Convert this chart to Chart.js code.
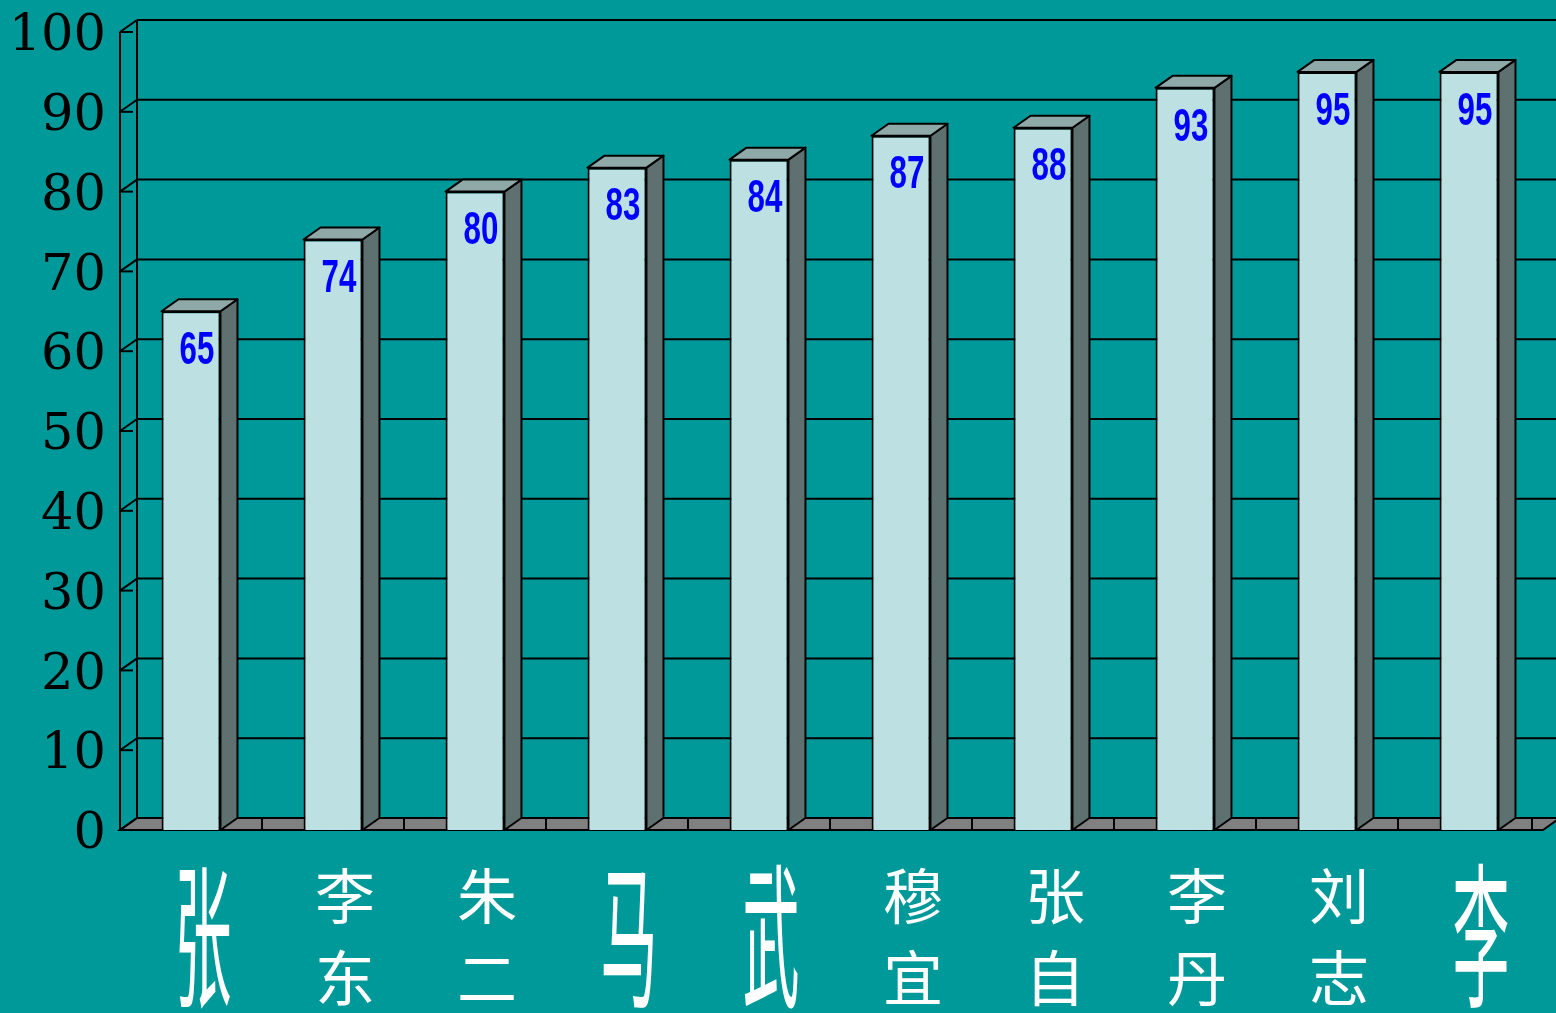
<!DOCTYPE html>
<html>
<head>
<meta charset="utf-8">
<script src="https://cdn.jsdelivr.net/npm/chart.js@4.4.1/dist/chart.umd.min.js"></script>
<style>
  html, body { margin: 0; padding: 0; background: #009999; }
  #myChart { display: block; }
</style>
</head>
<body>
<canvas id="myChart" width="1556" height="1013"></canvas>
<script>
// data
const names = ['张', '李东', '朱二', '马', '武', '穆宜', '张自', '李丹', '刘志', '李'];
const scores = [65, 74, 80, 83, 84, 87, 88, 93, 95, 95];
const yTicks = [0, 10, 20, 30, 40, 50, 60, 70, 80, 90, 100];

const DX = 17, DY = 12; // depth of the fake 3d

function line(ctx, x1, y1, x2, y2) {
    ctx.beginPath();
    ctx.moveTo(x1, y1);
    ctx.lineTo(x2, y2);
    ctx.stroke();
}

// walls, floor and grid behind the bars
const backWall = {
    id: 'backWall',
    beforeDatasetsDraw(chart) {
        const { ctx, chartArea: a, scales: { x, y } } = chart;
        const y0 = y.getPixelForValue(0);
        const yTop = y.getPixelForValue(100);
        ctx.save();
        ctx.strokeStyle = '#000';
        ctx.lineWidth = 2;

        // floor
        ctx.fillStyle = '#808080';
        ctx.beginPath();
        ctx.moveTo(a.left, y0);
        ctx.lineTo(a.right + 3, y0);
        ctx.lineTo(a.right + 3 + DX, y0 - DY);
        ctx.lineTo(a.left + DX, y0 - DY);
        ctx.closePath();
        ctx.fill();
        ctx.stroke();

        // grid lines on the back wall + left wall
        yTicks.forEach(v => {
            const py = y.getPixelForValue(v);
            line(ctx, a.left + DX, py - DY, chart.width, py - DY);
            line(ctx, a.left, py, a.left + DX, py - DY);
            line(ctx, a.left, py, a.left + 13, py);
        });
        line(ctx, a.left + DX, yTop - DY, a.left + DX, y0 - DY);
        line(ctx, a.left, yTop, a.left, y0);

        // floor dividers between categories
        for (let i = 1; i <= names.length; i++) {
            const px = i < names.length
                ? (x.getPixelForValue(i - 1) + x.getPixelForValue(i)) / 2
                : a.right - 8;
            line(ctx, px, y0 - DY, px, y0);
        }
        ctx.restore();
    }
};

// side + top faces and value labels
const barFaces = {
    id: 'barFaces',
    afterDatasetsDraw(chart) {
        const { ctx } = chart;
        const meta = chart.getDatasetMeta(0);
        ctx.save();
        ctx.strokeStyle = '#000';
        ctx.lineWidth = 2;
        ctx.lineJoin = 'round';
        meta.data.forEach((bar, i) => {
            const left = bar.x - bar.width / 2;
            const right = bar.x + bar.width / 2;
            const top = bar.y, base = bar.base;

            ctx.fillStyle = '#5f7070';
            ctx.beginPath();
            ctx.moveTo(right, top);
            ctx.lineTo(right + DX, top - DY);
            ctx.lineTo(right + DX, base - DY);
            ctx.lineTo(right, base);
            ctx.closePath();
            ctx.fill();
            ctx.stroke();

            ctx.fillStyle = '#8fa8a8';
            ctx.beginPath();
            ctx.moveTo(left, top);
            ctx.lineTo(left + DX, top - DY);
            ctx.lineTo(right + DX, top - DY);
            ctx.lineTo(right, top);
            ctx.closePath();
            ctx.fill();
            ctx.stroke();

            // condensed blue value
            ctx.save();
            ctx.translate(bar.x + 6, top + 39);
            ctx.scale(0.68, 1);
            ctx.fillStyle = '#0000ff';
            ctx.font = 'bold 46px "Liberation Sans", Arial, sans-serif';
            ctx.textAlign = 'center';
            ctx.textBaseline = 'middle';
            ctx.fillText(String(scores[i]), 0, 1);
            ctx.restore();
        });
        ctx.restore();
    }
};

// vertical chinese names under the axis
const nameLabels = {
    id: 'nameLabels',
    afterDraw(chart) {
        const { ctx, scales: { x } } = chart;
        ctx.save();
        ctx.fillStyle = '#fff';
        ctx.font = '60px "Noto Sans CJK SC", sans-serif';
        ctx.textAlign = 'center';
        ctx.textBaseline = 'middle';
        names.forEach((n, i) => {
            const px = x.getPixelForValue(i) + 12;
            if (n.length === 1) {
                ctx.save();
                ctx.translate(px, 936);
                ctx.scale(0.95, 2.6);
                ctx.fillText(n, 0, 0);
                ctx.restore();
            } else {
                [...n].forEach((c, k) => ctx.fillText(c, px, 896 + k * 82));
            }
        });
        ctx.restore();
    }
};

const config = {
    type: 'bar',
    data: {
        labels: names,
        datasets: [{
            data: scores,
            backgroundColor: '#bde0e3',
            borderColor: '#000',
            borderWidth: 2,
            categoryPercentage: 1,
            barPercentage: 0.415
        }]
    },
    options: {
        responsive: false,
        animation: false,
        devicePixelRatio: 1,
        layout: { padding: { top: 32, right: 16, left: 0, bottom: 0 } },
        plugins: { legend: { display: false }, tooltip: { enabled: false } },
        scales: {
            x: {
                grid: { display: false },
                border: { display: false },
                ticks: { display: false },
                afterFit(scale) { scale.height = 183; }
            },
            y: {
                min: 0,
                max: 100,
                grid: { display: false, drawTicks: false },
                border: { display: false },
                ticks: {
                    stepSize: 10,
                    padding: 14,
                    labelOffset: 5,
                    color: '#000',
                    font: { family: '"DejaVu Serif", serif', size: 51 }
                },
                afterFit(scale) {
                    scale.width = 120;
                    scale.paddingTop = 0;
                    scale.paddingBottom = 0;
                }
            }
        }
    },
    plugins: [backWall, barFaces, nameLabels]
};

const myChart = new Chart(document.getElementById('myChart'), config);
</script>
</body>
</html>
